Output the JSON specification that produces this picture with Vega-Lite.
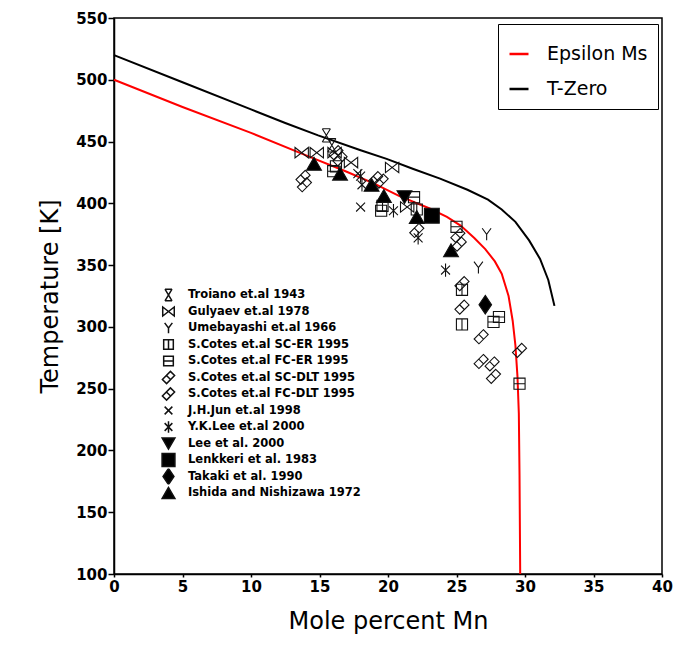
{
  "$schema": "https://vega.github.io/schema/vega-lite/v6.json",
  "autosize": "none",
  "width": 548,
  "height": 556,
  "padding": {"left": 114, "top": 18, "right": 11, "bottom": 87},
  "background": "white",
  "config": {
    "view": {"stroke": "black", "strokeWidth": 1.5},
    "axis": {
      "grid": false,
      "domainColor": "black",
      "domainWidth": 1.5,
      "tickColor": "black",
      "tickWidth": 1.5,
      "labelFont": "DejaVu Sans",
      "labelFontWeight": "bold",
      "labelFontSize": 15,
      "labelColor": "black",
      "titleFont": "DejaVu Sans",
      "titleFontWeight": "normal",
      "titleFontSize": 24,
      "titleColor": "black"
    }
  },
  "datasets": {
    "curves": [
      {"curve": "Epsilon Ms", "o": 0, "x": 0, "t": 500},
      {"curve": "Epsilon Ms", "o": 1, "x": 5, "t": 478},
      {"curve": "Epsilon Ms", "o": 2, "x": 10, "t": 457},
      {"curve": "Epsilon Ms", "o": 3, "x": 14.2, "t": 438},
      {"curve": "Epsilon Ms", "o": 4, "x": 16.9, "t": 426},
      {"curve": "Epsilon Ms", "o": 5, "x": 19.0, "t": 416},
      {"curve": "Epsilon Ms", "o": 6, "x": 20.8, "t": 406},
      {"curve": "Epsilon Ms", "o": 7, "x": 23.0, "t": 396},
      {"curve": "Epsilon Ms", "o": 8, "x": 24.3, "t": 389},
      {"curve": "Epsilon Ms", "o": 9, "x": 25.3, "t": 382},
      {"curve": "Epsilon Ms", "o": 10, "x": 26.3, "t": 372},
      {"curve": "Epsilon Ms", "o": 11, "x": 27.1, "t": 363},
      {"curve": "Epsilon Ms", "o": 12, "x": 27.8, "t": 353},
      {"curve": "Epsilon Ms", "o": 13, "x": 28.3, "t": 343},
      {"curve": "Epsilon Ms", "o": 14, "x": 28.8, "t": 325},
      {"curve": "Epsilon Ms", "o": 15, "x": 29.1, "t": 305},
      {"curve": "Epsilon Ms", "o": 16, "x": 29.3, "t": 285},
      {"curve": "Epsilon Ms", "o": 17, "x": 29.45, "t": 260},
      {"curve": "Epsilon Ms", "o": 18, "x": 29.55, "t": 230},
      {"curve": "Epsilon Ms", "o": 19, "x": 29.6, "t": 180},
      {"curve": "Epsilon Ms", "o": 20, "x": 29.65, "t": 100},
      {"curve": "T-Zero", "o": 0, "x": 0, "t": 520},
      {"curve": "T-Zero", "o": 1, "x": 5, "t": 498},
      {"curve": "T-Zero", "o": 2, "x": 10, "t": 476},
      {"curve": "T-Zero", "o": 3, "x": 12.5, "t": 465},
      {"curve": "T-Zero", "o": 4, "x": 14.9, "t": 455},
      {"curve": "T-Zero", "o": 5, "x": 18.0, "t": 443},
      {"curve": "T-Zero", "o": 6, "x": 19.9, "t": 436},
      {"curve": "T-Zero", "o": 7, "x": 21.8, "t": 428},
      {"curve": "T-Zero", "o": 8, "x": 23.8, "t": 420},
      {"curve": "T-Zero", "o": 9, "x": 25.8, "t": 411},
      {"curve": "T-Zero", "o": 10, "x": 27.3, "t": 403},
      {"curve": "T-Zero", "o": 11, "x": 28.3, "t": 395},
      {"curve": "T-Zero", "o": 12, "x": 29.3, "t": 385},
      {"curve": "T-Zero", "o": 13, "x": 30.3, "t": 370},
      {"curve": "T-Zero", "o": 14, "x": 31.1, "t": 355},
      {"curve": "T-Zero", "o": 15, "x": 31.7, "t": 338},
      {"curve": "T-Zero", "o": 16, "x": 32.15, "t": 317}
    ],
    "points": [
      {"series": "Troiano et.al 1943", "x": 15.5, "t": 455},
      {"series": "Troiano et.al 1943", "x": 15.9, "t": 447},
      {"series": "Gulyaev et.al 1978", "x": 13.7, "t": 441},
      {"series": "Gulyaev et.al 1978", "x": 14.8, "t": 441},
      {"series": "Gulyaev et.al 1978", "x": 16.1, "t": 441},
      {"series": "Gulyaev et.al 1978", "x": 17.3, "t": 433},
      {"series": "Gulyaev et.al 1978", "x": 20.3, "t": 429},
      {"series": "Gulyaev et.al 1978", "x": 21.4, "t": 397},
      {"series": "Umebayashi et.al 1966", "x": 27.2, "t": 375},
      {"series": "Umebayashi et.al 1966", "x": 26.6, "t": 348},
      {"series": "S.Cotes et.al SC-ER 1995", "x": 19.6, "t": 398},
      {"series": "S.Cotes et.al SC-ER 1995", "x": 22.1, "t": 395},
      {"series": "S.Cotes et.al SC-ER 1995", "x": 25.4, "t": 302},
      {"series": "S.Cotes et.al SC-ER 1995", "x": 25.4, "t": 330},
      {"series": "S.Cotes et.al FC-ER 1995", "x": 16.0, "t": 426},
      {"series": "S.Cotes et.al FC-ER 1995", "x": 16.2, "t": 430},
      {"series": "S.Cotes et.al FC-ER 1995", "x": 21.9, "t": 405},
      {"series": "S.Cotes et.al FC-ER 1995", "x": 25.0, "t": 381},
      {"series": "S.Cotes et.al FC-ER 1995", "x": 27.7, "t": 304},
      {"series": "S.Cotes et.al FC-ER 1995", "x": 28.1, "t": 308},
      {"series": "S.Cotes et.al FC-ER 1995", "x": 29.6, "t": 254},
      {"series": "S.Cotes et.al FC-ER 1995", "x": 19.5, "t": 394},
      {"series": "S.Cotes et.al SC-DLT 1995", "x": 13.8, "t": 421},
      {"series": "S.Cotes et.al SC-DLT 1995", "x": 13.9, "t": 415},
      {"series": "S.Cotes et.al SC-DLT 1995", "x": 16.2, "t": 441},
      {"series": "S.Cotes et.al SC-DLT 1995", "x": 19.5, "t": 418},
      {"series": "S.Cotes et.al SC-DLT 1995", "x": 22.1, "t": 378},
      {"series": "S.Cotes et.al SC-DLT 1995", "x": 25.1, "t": 374},
      {"series": "S.Cotes et.al SC-DLT 1995", "x": 25.4, "t": 335},
      {"series": "S.Cotes et.al SC-DLT 1995", "x": 26.8, "t": 292},
      {"series": "S.Cotes et.al SC-DLT 1995", "x": 26.8, "t": 272},
      {"series": "S.Cotes et.al SC-DLT 1995", "x": 27.7, "t": 260},
      {"series": "S.Cotes et.al SC-DLT 1995", "x": 29.6, "t": 281},
      {"series": "S.Cotes et.al FC-DLT 1995", "x": 16.5, "t": 436},
      {"series": "S.Cotes et.al FC-DLT 1995", "x": 25.2, "t": 367},
      {"series": "S.Cotes et.al FC-DLT 1995", "x": 25.4, "t": 316},
      {"series": "S.Cotes et.al FC-DLT 1995", "x": 27.6, "t": 270},
      {"series": "S.Cotes et.al FC-DLT 1995", "x": 19.1, "t": 420},
      {"series": "J.H.Jun et.al 1998", "x": 18.0, "t": 397},
      {"series": "J.H.Jun et.al 1998", "x": 17.8, "t": 424},
      {"series": "Y.K.Lee et.al 2000", "x": 18.0, "t": 422},
      {"series": "Y.K.Lee et.al 2000", "x": 18.1, "t": 415},
      {"series": "Y.K.Lee et.al 2000", "x": 20.4, "t": 394},
      {"series": "Y.K.Lee et.al 2000", "x": 22.2, "t": 372},
      {"series": "Y.K.Lee et.al 2000", "x": 24.2, "t": 346},
      {"series": "Lee et al. 2000", "x": 21.2, "t": 405},
      {"series": "Lenkkeri et al. 1983", "x": 23.2, "t": 390},
      {"series": "Takaki et al. 1990", "x": 27.1, "t": 318},
      {"series": "Ishida and Nishizawa 1972", "x": 14.6, "t": 432},
      {"series": "Ishida and Nishizawa 1972", "x": 16.5, "t": 424},
      {"series": "Ishida and Nishizawa 1972", "x": 18.8, "t": 415},
      {"series": "Ishida and Nishizawa 1972", "x": 19.7, "t": 406},
      {"series": "Ishida and Nishizawa 1972", "x": 22.1, "t": 389},
      {"series": "Ishida and Nishizawa 1972", "x": 24.6, "t": 362}
    ]
  },
  "encoding": {
    "x": {
      "field": "x", "type": "quantitative",
      "scale": {"domain": [0, 40], "nice": false, "zero": false},
      "axis": {"title": "Mole percent Mn", "values": [0, 5, 10, 15, 20, 25, 30, 35, 40], "tickSize": 3, "labelPadding": 2, "titlePadding": 15, "labelFlush": false}
    },
    "y": {
      "field": "t", "type": "quantitative",
      "scale": {"domain": [100, 550], "nice": false, "zero": false},
      "axis": {"title": "Temperature [K]", "values": [100, 150, 200, 250, 300, 350, 400, 450, 500, 550], "tickSize": 6, "labelPadding": 1, "titlePadding": 13, "labelFlush": false}
    }
  },
  "layer": [
    {
      "data": {"name": "curves"},
      "mark": {"type": "line", "strokeWidth": 2},
      "encoding": {
        "order": {"field": "o", "type": "quantitative"},
        "stroke": {
          "field": "curve", "type": "nominal",
          "scale": {"domain": ["Epsilon Ms", "T-Zero"], "range": ["#ff0000", "#000000"]},
          "legend": {
            "orient": "none", "legendX": 384, "legendY": 6,
            "title": "\u00a0", "titleFontSize": 8, "titlePadding": 1,
            "padding": 10, "strokeColor": "black",
            "fillColor": "white",
            "symbolType": "stroke", "symbolSize": 361, "symbolStrokeWidth": 2.5,
            "labelFont": "DejaVu Sans", "labelFontSize": 19, "labelColor": "black",
            "labelOffset": 17, "rowPadding": 14, "labelLimit": 300
          }
        }
      }
    },
    {
      "data": {"name": "points"},
      "mark": {"type": "point", "filled": true, "stroke": "#111", "strokeWidth": 1.1, "opacity": 1, "size": 220},
      "encoding": {
        "shape": {
          "field": "series", "type": "nominal",
          "scale": {
            "domain": ["Troiano et.al 1943", "Gulyaev et.al 1978", "Umebayashi et.al 1966", "S.Cotes et.al SC-ER 1995", "S.Cotes et.al FC-ER 1995", "S.Cotes et.al SC-DLT 1995", "S.Cotes et.al FC-DLT 1995", "J.H.Jun et.al 1998", "Y.K.Lee et.al 2000", "Lee et al. 2000", "Lenkkeri et al. 1983", "Takaki et al. 1990", "Ishida and Nishizawa 1972"],
            "range": [
              "M-0.55,-0.9H0.55M-0.55,0.9H0.55M-0.55,-0.9L0.55,0.9M0.55,-0.9L-0.55,0.9",
              "M-0.9,-0.7V0.7L0.9,-0.7V0.7Z",
              "M-0.6,-0.8L0,0L0.6,-0.8M0,0V0.8",
              "M-0.75,-0.75H0.75V0.75H-0.75ZM0,-0.75V0.75",
              "M-0.75,-0.75H0.75V0.75H-0.75ZM-0.75,0H0.75",
              "M0.3,-0.95L0.95,-0.3L-0.3,0.95L-0.95,0.3ZM-0.32,-0.32L0.32,0.32",
              "M0.3,-0.95L0.95,-0.3L-0.3,0.95L-0.95,0.3ZM-0.32,-0.32L0.32,0.32",
              "M-0.6,-0.6L0.6,0.6M0.6,-0.6L-0.6,0.6",
              "M-0.6,-0.6L0.6,0.6M0.6,-0.6L-0.6,0.6M0,-0.9V0.9",
              "triangle-down",
              "square",
              "M0,-1.25L0.85,0L0,1.25L-0.85,0Z",
              "triangle-up"
            ]
          },
          "legend": {
            "orient": "none", "legendX": 47, "legendY": 269,
            "title": null, "padding": 0,
            "labelFont": "DejaVu Sans", "labelFontWeight": "bold", "labelFontSize": 11.5, "labelColor": "black",
            "labelOffset": 12, "labelLimit": 300, "rowPadding": 0.5, "clipHeight": 16,
            "symbolSize": 165, "symbolOpacity": 1,
            "encode": {"symbols": {"update": {"stroke": {"value": "#111"}, "strokeWidth": {"value": 1}, "opacity": {"value": 1}}}}
          }
        },
        "fill": {
          "field": "series", "type": "nominal",
          "scale": {
            "domain": ["Troiano et.al 1943", "Gulyaev et.al 1978", "Umebayashi et.al 1966", "S.Cotes et.al SC-ER 1995", "S.Cotes et.al FC-ER 1995", "S.Cotes et.al SC-DLT 1995", "S.Cotes et.al FC-DLT 1995", "J.H.Jun et.al 1998", "Y.K.Lee et.al 2000", "Lee et al. 2000", "Lenkkeri et al. 1983", "Takaki et al. 1990", "Ishida and Nishizawa 1972"],
            "range": ["transparent", "transparent", "transparent", "transparent", "transparent", "transparent", "transparent", "transparent", "transparent", "black", "black", "black", "black"]
          },
          "legend": {
            "orient": "none", "legendX": 47, "legendY": 269,
            "title": null, "padding": 0,
            "labelFont": "DejaVu Sans", "labelFontWeight": "bold", "labelFontSize": 11.5, "labelColor": "black",
            "labelOffset": 12, "labelLimit": 300, "rowPadding": 0.5, "clipHeight": 16,
            "symbolSize": 165, "symbolOpacity": 1,
            "encode": {"symbols": {"update": {"stroke": {"value": "#111"}, "strokeWidth": {"value": 1}, "opacity": {"value": 1}}}}
          }
        }
      }
    }
  ]
}
